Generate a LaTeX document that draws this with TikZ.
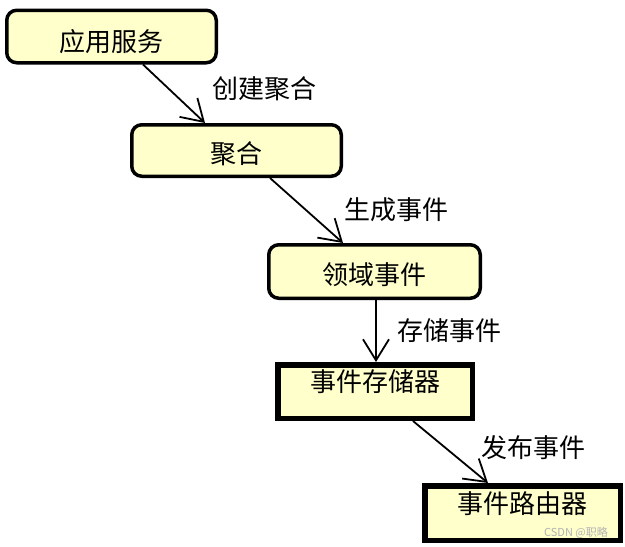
\documentclass[tikz,border=0pt]{standalone}
\usepackage{fontspec}
\newfontfamily\cjk{Noto Sans CJK SC}
\usetikzlibrary{arrows.meta}
\definecolor{boxfill}{RGB}{255,255,204}

\tikzset{
  box/.style={draw=black, fill=boxfill, inner sep=0pt, font=\cjk\fontsize{26}{30}\selectfont},
  roundbox/.style={box, line width=3.5pt, rounded corners=10pt},
  squarebox/.style={box, line width=5.5pt},
  textpos/.style={text height=#1, text depth=0pt},
  flow/.style={line width=1.8pt, -{Straight Barb[length=21pt,width=26pt]}},
  flowlabel/.style={font=\cjk\fontsize{26}{30}\selectfont, anchor=base, inner sep=0pt},
}

\begin{document}
\begin{tikzpicture}[x=1pt,y=-1pt]
  \useasboundingbox (0,0) rectangle (625,547);
  % boxes
  \node[roundbox, minimum width=209.5pt, minimum height=52.5pt, textpos=29.8pt] (svc) at (111.5,36.5) {应用服务};
  \node[roundbox, minimum width=209.5pt, minimum height=51.5pt, textpos=25.8pt] (agg) at (236.5,150.5) {聚合};
  \node[roundbox, minimum width=211.5pt, minimum height=53.5pt, textpos=25.8pt] (evt) at (374.5,271.5) {领域事件};
  \node[squarebox, minimum width=194.5pt, minimum height=53.5pt, textpos=0.8pt] (store) at (375,391.5) {事件存储器};
  \node[squarebox, minimum width=195.5pt, minimum height=54.5pt, textpos=1.8pt] (router) at (522.5,513) {事件路由器};
  \node[text=gray!60, font=\cjk\fontsize{11}{12}\selectfont, inner sep=0pt] (watermark) at (576,533) {CSDN @职略};
  % arrows
  \foreach \a/\b/\sa/\sb in {svc/agg/31.5/-31.5, agg/evt/33.5/-31.5, evt/store/1.5/1, store/router/38/-34.5}
    \draw[flow] ([xshift=\sa pt]\a.south) -- ([xshift=\sb pt]\b.north);
  % labels
  \node[flowlabel] (create) at (264,98.4) {创建聚合};
  \node[flowlabel] (emit) at (396,219.9) {生成事件};
  \node[flowlabel] (save) at (449,340.9) {存储事件};
  \node[flowlabel] (publish) at (533.5,457.4) {发布事件};
\end{tikzpicture}
\end{document}
